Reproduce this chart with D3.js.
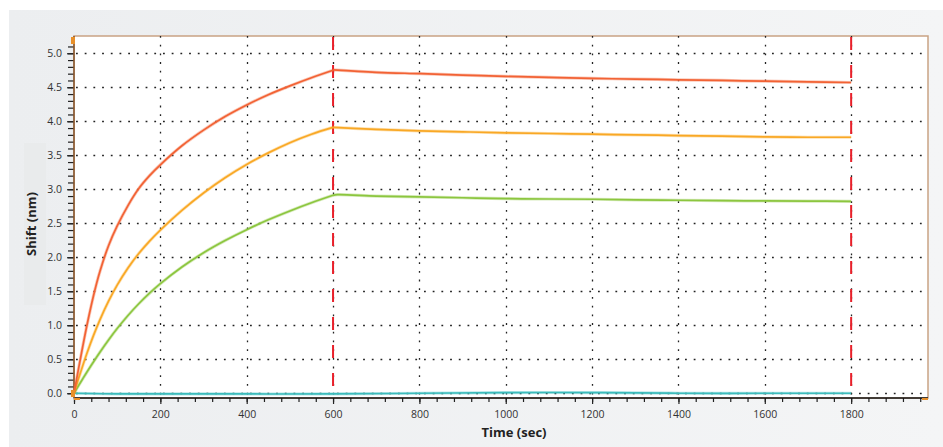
<!DOCTYPE html>
<html>
<head>
<meta charset="utf-8">
<script src="https://cdn.jsdelivr.net/npm/d3@7"></script>
<style>
  html, body { margin: 0; padding: 0; background: #fff; }
  svg { display: block; font-family: "Open Sans", "DejaVu Sans", sans-serif; }
</style>
</head>
<body>
<div id="scene"></div>
<script>
// sensor-trace readings (time in sec, shift in nm)
var assocTime = [0, 10, 20, 30, 45, 60, 80, 100, 125, 150, 175, 200, 250, 300, 350, 400, 450, 500, 550, 600];
var dissocTime = [600, 700, 800, 900, 1000, 1100, 1200, 1300, 1400, 1500, 1600, 1700, 1800];

var redAssoc    = [0, 0.345, 0.68, 1.0, 1.43, 1.79, 2.17, 2.46, 2.76, 3.01, 3.20, 3.36, 3.64, 3.87, 4.07, 4.24, 4.39, 4.52, 4.64, 4.75];
var redDissoc   = [4.755, 4.72, 4.70, 4.68, 4.66, 4.645, 4.63, 4.62, 4.61, 4.60, 4.59, 4.58, 4.57];
var orangeAssoc = [0, 0.205, 0.40, 0.588, 0.847, 1.08, 1.354, 1.591, 1.842, 2.055, 2.238, 2.40, 2.69, 2.945, 3.17, 3.365, 3.535, 3.685, 3.81, 3.91];
var orangeDissoc= [3.91, 3.88, 3.86, 3.845, 3.83, 3.82, 3.81, 3.80, 3.79, 3.78, 3.77, 3.765, 3.765];
var greenAssoc  = [0, 0.106, 0.21, 0.312, 0.46, 0.603, 0.783, 0.951, 1.143, 1.316, 1.471, 1.611, 1.856, 2.066, 2.246, 2.406, 2.551, 2.681, 2.801, 2.911];
var greenDissoc = [2.92, 2.90, 2.887, 2.875, 2.862, 2.857, 2.853, 2.845, 2.838, 2.833, 2.828, 2.825, 2.823];

var refTime = [0, 100, 300, 600, 800, 1000, 1200, 1400, 1600, 1800];
var refShift = [0, -0.01, -0.01, -0.01, 0.0, 0.01, 0.01, 0.0, 0.0, 0.0];

var stepLines = [600, 1800];
var xTicks = [0, 200, 400, 600, 800, 1000, 1200, 1400, 1600, 1800];
var yTicks = [0.0, 0.5, 1.0, 1.5, 2.0, 2.5, 3.0, 3.5, 4.0, 4.5, 5.0];

var ctx = { w: 943, h: 447, left: 74, right: 928, top: 36, bottom: 398 };

var svg = d3.select("#scene").append("svg")
  .attr("width", ctx.w)
  .attr("height", ctx.h);

// gray panel behind the chart
var defs = svg.append("defs");
var grad = defs.append("linearGradient").attr("id", "bg").attr("x1", 0).attr("x2", 1).attr("y1", 0).attr("y2", 0);
grad.append("stop").attr("offset", "0%").attr("stop-color", "#eceef0");
grad.append("stop").attr("offset", "100%").attr("stop-color", "#f4f5f6");
svg.append("rect").attr("x", 9).attr("y", 10).attr("width", ctx.w - 9).attr("height", ctx.h - 10).attr("fill", "url(#bg)");
svg.append("rect").attr("x", 24).attr("y", 143).attr("width", 22).attr("height", 162).attr("fill", "#e9ebec");

var x = d3.scaleLinear().domain([0, 1978]).range([ctx.left, ctx.right]);
var y = d3.scaleLinear().domain([-0.07, 5.254]).range([ctx.bottom, ctx.top]);

// plot area
svg.append("rect")
  .attr("x", ctx.left).attr("y", ctx.top)
  .attr("width", ctx.right - ctx.left).attr("height", ctx.bottom - ctx.top)
  .attr("fill", "#fff").attr("stroke", "#c9a384").attr("stroke-width", 1.5);

// dotted grid
var grid = svg.append("g").attr("stroke", "#222").attr("stroke-width", 1.3).attr("stroke-dasharray", "1.8,6.9");
grid.selectAll("line.h").data(yTicks).enter().append("line")
  .attr("x1", ctx.left + 2).attr("x2", ctx.right)
  .attr("y1", function(d) { return Math.round(y(d)) + 0.5; })
  .attr("y2", function(d) { return Math.round(y(d)) + 0.5; });
grid.selectAll("line.v").data(xTicks.slice(1)).enter().append("line")
  .attr("y1", ctx.top).attr("y2", ctx.bottom)
  .attr("x1", function(d) { return Math.round(x(d)) + 0.5; })
  .attr("x2", function(d) { return Math.round(x(d)) + 0.5; });

// axes
var yAxis = svg.append("g").attr("transform", "translate(" + ctx.left + ",0)")
  .call(d3.axisLeft(y).tickValues(d3.range(0, 52).map(function(i) { return i / 10; })).tickSize(6).tickFormat(""));
yAxis.select(".domain").remove();
yAxis.selectAll(".tick line").attr("stroke", "#222").attr("stroke-width", 1.2);

var yLab = svg.append("g").attr("transform", "translate(" + ctx.left + ",0)")
  .call(d3.axisLeft(y).tickValues(yTicks).tickSize(7).tickPadding(5).tickFormat(d3.format(".1f")));
yLab.select(".domain").remove();
yLab.selectAll(".tick line").attr("stroke", "#222").attr("stroke-width", 1.2);
yLab.selectAll(".tick text").attr("fill", "#333").style("font-size", "10.5px").style("font-family", "'Open Sans', sans-serif");

var xAxis = svg.append("g").attr("transform", "translate(0," + ctx.bottom + ")")
  .call(d3.axisBottom(x).tickValues(d3.range(0, 1961, 40)).tickSize(4).tickFormat(""));
xAxis.select(".domain").remove();
xAxis.selectAll(".tick line").attr("stroke", "#222").attr("stroke-width", 1.2);

var xLab = svg.append("g").attr("transform", "translate(0," + ctx.bottom + ")")
  .call(d3.axisBottom(x).tickValues(xTicks).tickSize(6).tickPadding(7).tickFormat(d3.format("d")));
xLab.select(".domain").remove();
xLab.selectAll(".tick line").attr("stroke", "#222").attr("stroke-width", 1.2);
xLab.selectAll(".tick text").attr("fill", "#333").style("font-size", "10.5px").style("font-family", "'Open Sans', sans-serif");

svg.append("line").attr("x1", ctx.left).attr("x2", ctx.right).attr("y1", ctx.bottom).attr("y2", ctx.bottom)
  .attr("stroke", "#111").attr("stroke-width", 1.6);
svg.append("line").attr("x1", ctx.left).attr("x2", ctx.left).attr("y1", ctx.top).attr("y2", ctx.bottom)
  .attr("stroke", "#8a5a32").attr("stroke-width", 1.6);

// step markers
svg.selectAll("line.step").data(stepLines).enter().append("line")
  .attr("x1", function(d) { return x(d); }).attr("x2", function(d) { return x(d); })
  .attr("y1", ctx.top + 1).attr("y2", ctx.bottom)
  .attr("stroke", "#e8202a").attr("stroke-width", 2).attr("stroke-dasharray", "13,15");

// traces
var line = d3.line()
  .x(function(d) { return x(d[0]); })
  .y(function(d) { return y(d[1]); })
  .curve(d3.curveCatmullRom.alpha(0.5));

function trace(times, vals) {
  return times.map(function(t, i) { return [t, vals[i]]; });
}

// association and dissociation phases drawn as separate pieces so the corner at 600 stays sharp
var series = [
  { color: "#3dbcbc", parts: [trace(refTime, refShift)] },
  { color: "#8cc63f", parts: [trace(assocTime, greenAssoc), trace([600, 610].concat(dissocTime.slice(1)), [greenAssoc[19]].concat(greenDissoc))] },
  { color: "#f9a825", parts: [trace(assocTime, orangeAssoc), trace(dissocTime, orangeDissoc)] },
  { color: "#f26234", parts: [trace(assocTime, redAssoc), trace(dissocTime, redDissoc)] }
];

series.forEach(function(s) {
  s.parts.forEach(function(p) {
    svg.append("path").datum(p).attr("d", line)
      .attr("fill", "none").attr("stroke", s.color).attr("stroke-opacity", 0.35).attr("stroke-width", 3.2);
  });
  s.parts.forEach(function(p) {
    svg.append("path").datum(p).attr("d", line)
      .attr("fill", "none").attr("stroke", s.color).attr("stroke-width", 1.7);
  });
});

// little orange grip handles
var grip = "#e8902a";
svg.append("rect").attr("x", 71).attr("y", 37).attr("width", 4).attr("height", 7).attr("fill", grip);
svg.append("rect").attr("x", 71).attr("y", 390).attr("width", 4).attr("height", 7).attr("fill", grip);
svg.append("rect").attr("x", 74).attr("y", 398).attr("width", 6).attr("height", 2).attr("fill", grip);
svg.append("rect").attr("x", 922).attr("y", 398).attr("width", 6).attr("height", 2).attr("fill", grip);

// axis titles
svg.append("text").attr("x", 514).attr("y", 437).attr("text-anchor", "middle")
  .style("font-size", "13px").style("font-weight", "bold").attr("fill", "#222").text("Time (sec)");
svg.append("text").attr("transform", "translate(36,224) rotate(-90)").attr("text-anchor", "middle")
  .style("font-size", "13px").style("font-weight", "bold").attr("fill", "#222").text("Shift (nm)");
</script>
</body>
</html>
